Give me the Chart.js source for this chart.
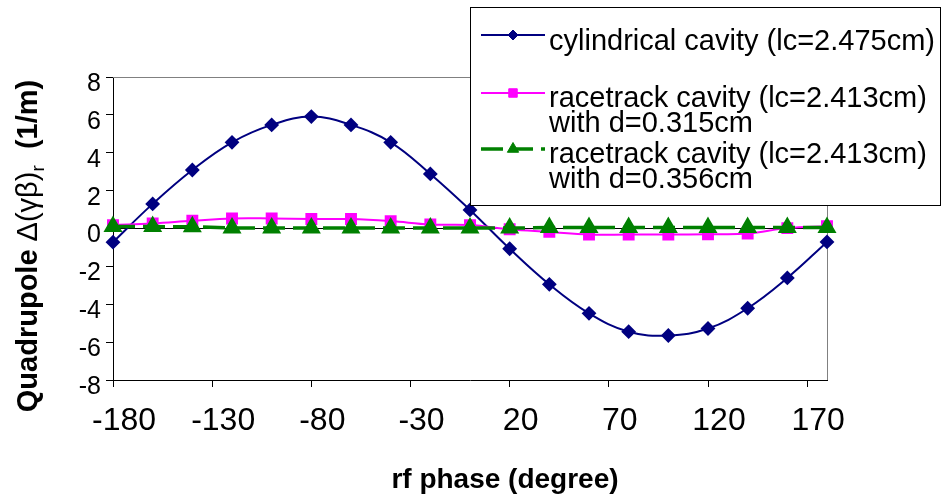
<!DOCTYPE html>
<html>
<head>
<meta charset="utf-8">
<script src="https://cdn.jsdelivr.net/npm/chart.js@4.4.1/dist/chart.umd.min.js"></script>
<style>
  html, body { margin: 0; padding: 0; background: #fff; }
  #wrap { position: relative; width: 944px; height: 497px; }
</style>
</head>
<body>
<div id="wrap"><canvas id="quadChart" width="944" height="497"></canvas></div>
<script>
// rf phase (degree)
const phases = [-180, -160, -140, -120, -100, -80, -60, -40, -20, 0, 20, 40, 60, 80, 100, 120, 140, 160, 180];
// quadrupole kick, 1/m
const cylindrical = [-0.72, 1.30, 3.09, 4.55, 5.47, 5.91, 5.47, 4.55, 2.88, 0.98, -1.07, -2.95, -4.48, -5.45, -5.65, -5.28, -4.21, -2.61, -0.71];
const racetrack315 = [0.18, 0.27, 0.41, 0.53, 0.53, 0.50, 0.50, 0.39, 0.21, 0.18, -0.04, -0.18, -0.32, -0.32, -0.32, -0.30, -0.27, 0.02, 0.12];
const racetrack356 = [0.10, 0.10, 0.09, 0.03, 0.03, 0.03, 0.03, 0.03, 0.03, 0.03, 0.02, 0.05, 0.05, 0.05, 0.05, 0.05, 0.05, 0.05, 0.05];

const xTicks = [-180, -130, -80, -30, 20, 70, 120, 170];
const yTicks = [-8, -6, -4, -2, 0, 2, 4, 6, 8];

const seriesNames = [
    ['cylindrical cavity (lc=2.475cm)'],
    ['racetrack cavity (lc=2.413cm)', 'with d=0.315cm'],
    ['racetrack cavity (lc=2.413cm)', 'with d=0.356cm']
];

const FONT = '"Liberation Sans", Arial, sans-serif';
const pts = vals => vals.map((v, i) => ({ x: phases[i], y: v }));

// plot frame (top/right in grey) drawn under the data
const framePlugin = {
    id: 'frame',
    beforeDatasetsDraw(chart) {
        const { ctx, chartArea: a } = chart;
        ctx.save();
        ctx.strokeStyle = '#808080';
        ctx.lineWidth = 1;
        ctx.beginPath();
        ctx.moveTo(a.left, a.top + 0.5);
        ctx.lineTo(a.right + 0.5, a.top + 0.5);
        ctx.lineTo(a.right + 0.5, a.bottom);
        ctx.stroke();
        ctx.restore();
    }
};

// axis titles and boxed legend
const textPlugin = {
    id: 'texts',
    afterDraw(chart) {
        const ctx = chart.ctx;
        ctx.save();

        // x title
        ctx.fillStyle = '#000';
        ctx.font = 'bold 28px ' + FONT;
        ctx.textAlign = 'center';
        ctx.textBaseline = 'middle';
        ctx.fillText('rf phase (degree)', 505, 480);

        // y title with subscript
        const parts = [
            { t: 'Quadrupole ', f: 'bold 29px ' + FONT, dy: 0 },
            { t: 'Δ(γβ)', f: '29px ' + FONT, dy: 0 },
            { t: 'r', f: '19px ' + FONT, dy: 7 },
            { t: '  (1/m)', f: 'bold 29px ' + FONT, dy: 0 }
        ];
        let total = 0;
        parts.forEach(p => { ctx.font = p.f; p.w = ctx.measureText(p.t).width; total += p.w; });
        ctx.translate(37, 246);
        ctx.rotate(-Math.PI / 2);
        ctx.textAlign = 'left';
        ctx.textBaseline = 'alphabetic';
        let x = -total / 2;
        parts.forEach(p => { ctx.font = p.f; ctx.fillText(p.t, x, p.dy); x += p.w; });
        ctx.setTransform(1, 0, 0, 1, 0, 0);

        // legend box
        ctx.fillStyle = '#fff';
        ctx.fillRect(470, 7, 470, 198);
        ctx.strokeStyle = '#000';
        ctx.lineWidth = 1;
        ctx.strokeRect(470.5, 7.5, 470, 198);

        const sampleY = [35, 93, 149];
        const textY = [[50], [107, 132], [163, 188]];
        chart.data.datasets.forEach((ds, i) => {
            const y = sampleY[i];
            ctx.strokeStyle = ds.borderColor;
            ctx.lineWidth = ds.borderWidth;
            ctx.setLineDash(ds.borderDash || []);
            ctx.beginPath();
            ctx.moveTo(481, y);
            ctx.lineTo(545, y);
            ctx.stroke();
            ctx.setLineDash([]);
            ctx.fillStyle = ds.pointBackgroundColor;
            ctx.strokeStyle = ds.pointBorderColor;
            ctx.lineWidth = 1;
            Chart.helpers.drawPoint(ctx, {
                pointStyle: ds.pointStyle, radius: ds.pointRadius - 1, rotation: 0, borderWidth: 1
            }, 513, y);
            ctx.fillStyle = '#000';
            ctx.font = '29px ' + FONT;
            ctx.textAlign = 'left';
            ctx.textBaseline = 'alphabetic';
            seriesNames[i].forEach((line, j) => ctx.fillText(line, 549, textY[i][j]));
        });
        ctx.restore();
    }
};

new Chart(document.getElementById('quadChart'), {
    type: 'line',
    data: {
        datasets: [
            {
                label: seriesNames[0].join(' '),
                data: pts(cylindrical),
                borderColor: '#000080',
                backgroundColor: '#000080',
                pointBackgroundColor: '#000080',
                pointBorderColor: '#000080',
                borderWidth: 2,
                pointStyle: 'rectRot',
                pointRadius: 6,
                tension: 0.4,
                order: 3,
                clip: false
            },
            {
                label: seriesNames[1].join(' '),
                data: pts(racetrack315),
                borderColor: '#ff00ff',
                backgroundColor: '#ff00ff',
                pointBackgroundColor: '#ff00ff',
                pointBorderColor: '#ff00ff',
                borderWidth: 2,
                pointStyle: 'rect',
                pointRadius: 7,
                tension: 0.4,
                order: 2,
                clip: false
            },
            {
                label: seriesNames[2].join(' '),
                data: pts(racetrack356),
                borderColor: '#008000',
                backgroundColor: '#008000',
                pointBackgroundColor: '#008000',
                pointBorderColor: '#008000',
                borderWidth: 3.5,
                borderDash: [22, 8],
                pointStyle: 'triangle',
                pointRadius: 7.5,
                tension: 0,
                order: 1,
                clip: false
            }
        ]
    },
    options: {
        responsive: false,
        animation: false,
        devicePixelRatio: 1,
        layout: { padding: { top: 77, right: 117, bottom: 0, left: 0 } },
        plugins: {
            legend: { display: false },
            tooltip: { enabled: false }
        },
        scales: {
            x: {
                type: 'linear',
                min: -180,
                max: 180,
                afterBuildTicks: s => { s.ticks = xTicks.map(v => ({ value: v })); },
                afterFit: s => { s.height = 117; },
                border: { color: '#000', width: 1 },
                grid: { drawOnChartArea: false, tickLength: 7, tickColor: '#000' },
                ticks: {
                    color: '#000',
                    font: { family: FONT, size: 32 },
                    padding: 15,
                    labelOffset: 11,
                    maxRotation: 0,
                    autoSkip: false,
                    callback: v => String(v)
                }
            },
            y: {
                min: -8,
                max: 8,
                afterBuildTicks: s => { s.ticks = yTicks.map(v => ({ value: v })); },
                afterFit: s => { s.width = 113; },
                border: { color: '#000', width: 1 },
                grid: {
                    tickLength: 7,
                    tickColor: '#000',
                    color: c => (c.tick && c.tick.value === 0 ? '#000' : 'rgba(0,0,0,0)')
                },
                ticks: {
                    color: '#000',
                    font: { family: FONT, size: 25 },
                    padding: 5,
                    labelOffset: 7,
                    callback: v => String(v)
                }
            }
        }
    },
    plugins: [framePlugin, textPlugin]
});
</script>
</body>
</html>
